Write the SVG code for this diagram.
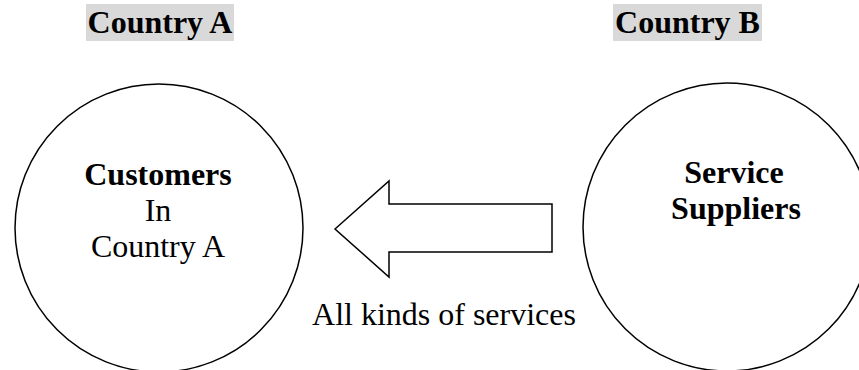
<svg xmlns="http://www.w3.org/2000/svg" width="859" height="370" viewBox="0 0 859 370">
<style>
.b{font-family:"Liberation Serif","Times New Roman",serif;font-size:32px;font-weight:bold;fill:#000;text-anchor:middle}
.r{font-family:"Liberation Serif","Times New Roman",serif;font-size:32px;fill:#000;text-anchor:middle}
.c{fill:#fff;stroke:#000;stroke-width:1.5}
.hdr{fill:#d9d9d9}
</style>
<rect width="859" height="370" fill="#fff"/>
<g id="header-a">
<rect class="hdr" x="86" y="4" width="148" height="37"/>
<text class="b" x="160" y="33">Country A</text>
</g>
<g id="header-b">
<rect class="hdr" x="613" y="4" width="149" height="37"/>
<text class="b" x="687.5" y="33">Country B</text>
</g>
<g id="customers">
<circle class="c" cx="159" cy="228" r="144"/>
<text class="b" x="158" y="185">Customers</text>
<text class="r" x="158" y="221">In</text>
<text class="r" x="158" y="257">Country A</text>
</g>
<g id="suppliers">
<circle class="c" cx="727" cy="227" r="144"/>
<text class="b" x="734" y="183">Service</text>
<text class="b" x="736" y="219">Suppliers</text>
</g>
<g id="connectors">
<polygon points="335,229 389,181 389,204 552,204 552,252 389,252 389,277" fill="#fff" stroke="#000" stroke-width="1.5" stroke-linejoin="miter"/>
<text class="r" x="444" y="325">All kinds of services</text>
</g>
</svg>
